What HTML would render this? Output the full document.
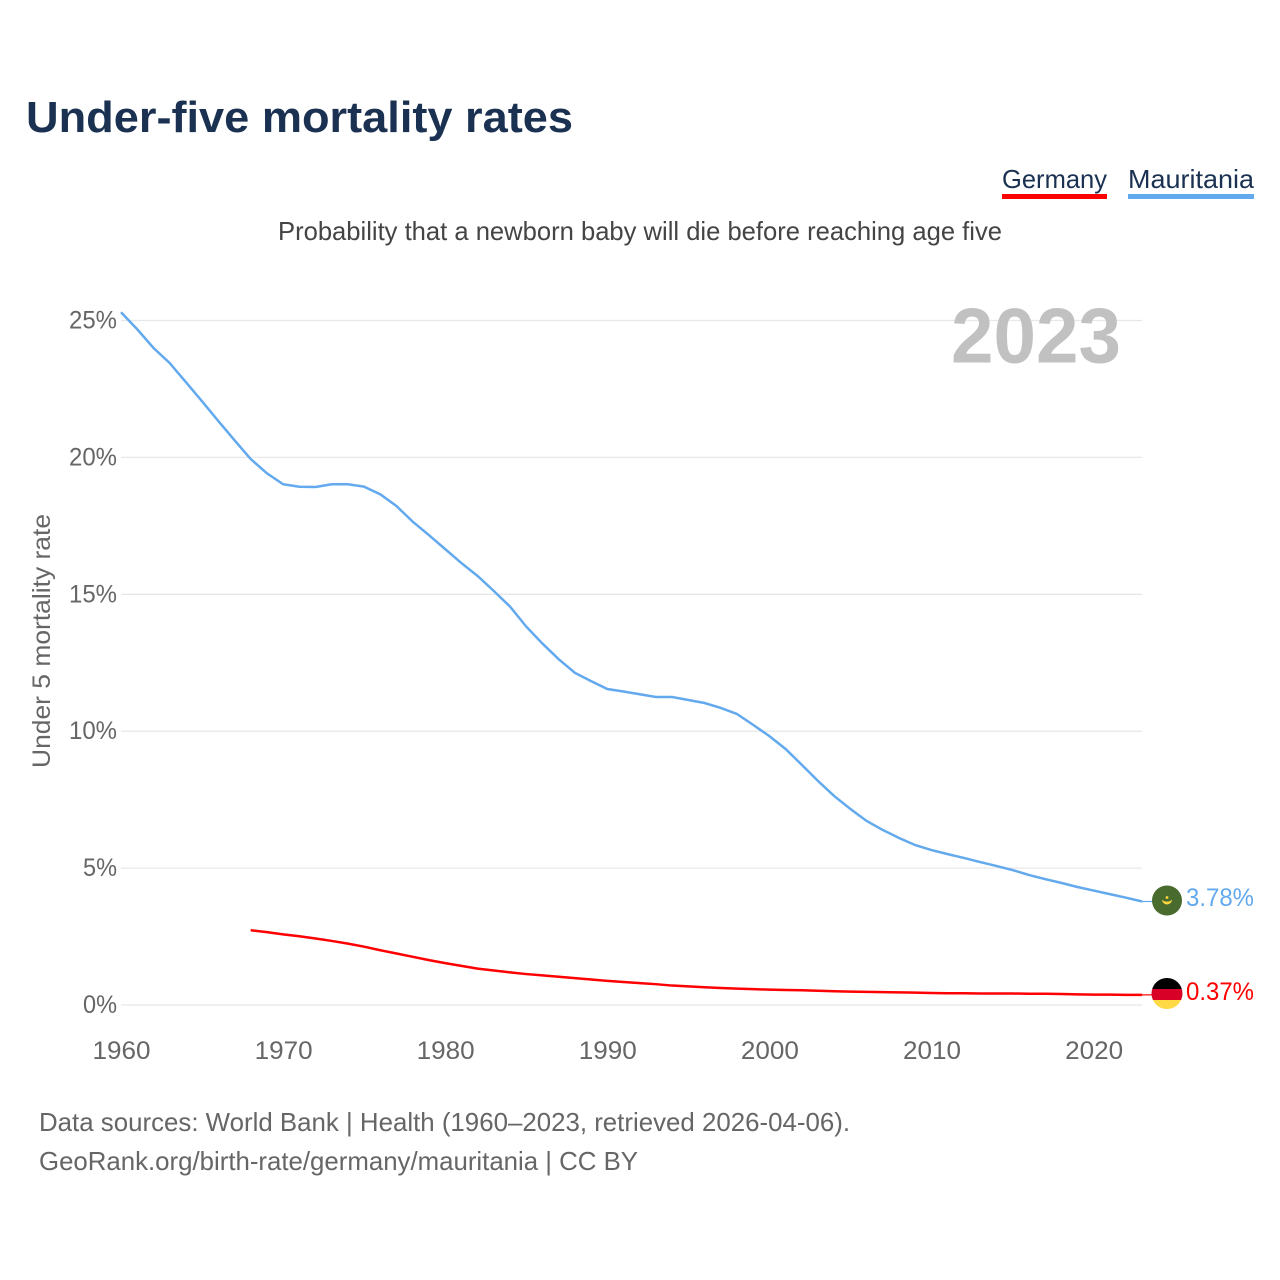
<!DOCTYPE html>
<html lang="en">
<head>
<meta charset="utf-8">
<title>Under-five mortality rates</title>
<style>
html,body{margin:0;padding:0;background:#fff;width:1280px;height:1280px;overflow:hidden}
svg{display:block}
text{font-family:"Liberation Sans",sans-serif}
</style>
</head>
<body>
<svg id="chart" xmlns="http://www.w3.org/2000/svg" width="1280" height="1280" viewBox="0 0 1280 1280">
  <defs>
    <clipPath id="clip-mr"><circle cx="1167" cy="900.5" r="15"/></clipPath>
    <clipPath id="clip-de"><circle cx="1167" cy="993.5" r="15.5"/></clipPath>
  </defs>
  <text x="26" y="132" font-size="44" font-weight="700" fill="#1a3152" textLength="547" lengthAdjust="spacingAndGlyphs">Under-five mortality rates</text>

  <g>
    <text x="1002" y="188" font-size="26" fill="#1a3152" textLength="105" lengthAdjust="spacingAndGlyphs">Germany</text>
    <rect x="1002" y="194" width="105" height="5" fill="#ff0000"/>
  </g>
  <g>
    <text x="1128" y="188" font-size="26" fill="#1a3152" textLength="126" lengthAdjust="spacingAndGlyphs">Mauritania</text>
    <rect x="1128" y="194" width="126" height="5" fill="#63a9ee"/>
  </g>

  <text x="278" y="240" font-size="26" fill="#444444" textLength="724" lengthAdjust="spacingAndGlyphs">Probability that a newborn baby will die before reaching age five</text>

  <g id="grid"></g>
  <text x="1036" y="362.5" font-size="78" font-weight="700" fill="#bfbfbf" fill-opacity="0.97" text-anchor="middle" textLength="170" lengthAdjust="spacingAndGlyphs">2023</text>
  <g id="yticks"></g>
  <g id="xticks"></g>

  <text transform="translate(50,641) rotate(-90)" font-size="25" fill="#666666" text-anchor="middle" textLength="254" lengthAdjust="spacingAndGlyphs">Under 5 mortality rate</text>

  <g id="series"></g>

  <g>
    <circle cx="1167" cy="900.5" r="15" fill="#4a6b2e"/>
    <path d="M1162 899.5a5 5 0 0 0 10 0a5.5 3.6 0 0 1-10 0z" fill="#ffd83d"/>
    <circle cx="1167" cy="897.5" r="1.4" fill="#ffd83d"/>
  </g>
  <g clip-path="url(#clip-de)">
    <rect x="1150" y="977" width="34" height="12" fill="#000000"/>
    <rect x="1150" y="989" width="34" height="11" fill="#d80027"/>
    <rect x="1150" y="1000" width="34" height="11" fill="#ffda44"/>
  </g>

  <text id="label-mr" x="1254" y="906" font-size="25" fill="#63a9ee" text-anchor="end" textLength="68" lengthAdjust="spacingAndGlyphs"></text>
  <text id="label-de" x="1254" y="1000" font-size="25" fill="#ff0000" text-anchor="end" textLength="68" lengthAdjust="spacingAndGlyphs"></text>

  <text x="39" y="1131" font-size="26" fill="#666666" textLength="811" lengthAdjust="spacingAndGlyphs">Data sources: World Bank | Health (1960–2023, retrieved 2026-04-06).</text>
  <text x="39" y="1170" font-size="26" fill="#666666" textLength="599" lengthAdjust="spacingAndGlyphs">GeoRank.org/birth-rate/germany/mauritania | CC BY</text>
</svg>
<script>
const yearsStart = 1960;
const xTickYears = [1960, 1970, 1980, 1990, 2000, 2010, 2020];
const yTickValues = [0, 5, 10, 15, 20, 25];
const mauritaniaYears = [1960,1961,1962,1963,1964,1965,1966,1967,1968,1969,1970,1971,1972,1973,1974,1975,1976,1977,1978,1979,1980,1981,1982,1983,1984,1985,1986,1987,1988,1989,1990,1991,1992,1993,1994,1995,1996,1997,1998,1999,2000,2001,2002,2003,2004,2005,2006,2007,2008,2009,2010,2011,2012,2013,2014,2015,2016,2017,2018,2019,2020,2021,2022,2023];
const mauritaniaValues = [25.3,24.68,24.0,23.45,22.75,22.05,21.33,20.63,19.94,19.42,19.02,18.93,18.92,19.02,19.02,18.93,18.65,18.22,17.65,17.16,16.65,16.14,15.67,15.12,14.55,13.82,13.2,12.63,12.13,11.83,11.54,11.45,11.35,11.25,11.25,11.14,11.03,10.85,10.63,10.23,9.82,9.35,8.77,8.18,7.63,7.16,6.72,6.39,6.1,5.84,5.66,5.51,5.37,5.22,5.08,4.93,4.75,4.6,4.46,4.31,4.18,4.05,3.92,3.78];
const germanyYears = [1968,1969,1970,1971,1972,1973,1974,1975,1976,1977,1978,1979,1980,1981,1982,1983,1984,1985,1986,1987,1988,1989,1990,1991,1992,1993,1994,1995,1996,1997,1998,1999,2000,2001,2002,2003,2004,2005,2006,2007,2008,2009,2010,2011,2012,2013,2014,2015,2016,2017,2018,2019,2020,2021,2022,2023];
const germanyValues = [2.73,2.66,2.58,2.51,2.43,2.34,2.24,2.13,2.0,1.88,1.76,1.64,1.53,1.43,1.33,1.26,1.19,1.13,1.08,1.03,0.98,0.93,0.88,0.84,0.8,0.76,0.71,0.68,0.65,0.62,0.6,0.58,0.56,0.55,0.54,0.52,0.5,0.49,0.48,0.47,0.46,0.45,0.44,0.43,0.43,0.42,0.42,0.42,0.41,0.41,0.4,0.39,0.38,0.38,0.37,0.37];

const SVG_NS = 'http://www.w3.org/2000/svg';
const xOf = function (year) { return 121 + (year - yearsStart) * 16.21; };
const yOf = function (value) { return 1005 - value * 27.38; };
const plotRight = xOf(2023);

const grid = document.getElementById('grid');
const yticks = document.getElementById('yticks');
const xticks = document.getElementById('xticks');
const series = document.getElementById('series');

yTickValues.forEach(function (v) {
  const line = document.createElementNS(SVG_NS, 'line');
  
  
  line.setAttribute('x1', xOf(yearsStart));
  line.setAttribute('x2', plotRight);
  line.setAttribute('y1', yOf(v));
  line.setAttribute('y2', yOf(v));
  line.setAttribute('stroke', '#e8e8e8');
  line.setAttribute('stroke-width', '1.3');
  grid.appendChild(line);

  const label = document.createElementNS(SVG_NS, 'text');
  
  
  label.setAttribute('x', 117);
  label.setAttribute('y', yOf(v) + 8);
  label.setAttribute('font-size', '25');
  label.setAttribute('fill', '#666666');
  label.setAttribute('text-anchor', 'end');
  label.setAttribute('textLength', String(14 * String(v).length + 20));
  label.setAttribute('lengthAdjust', 'spacingAndGlyphs');
  label.textContent = v + '%';
  yticks.appendChild(label);
});

xTickYears.forEach(function (yr) {
  const label = document.createElementNS(SVG_NS, 'text');
  
  
  label.setAttribute('x', xOf(yr) + 0.5);
  label.setAttribute('y', 1059);
  label.setAttribute('font-size', '25');
  label.setAttribute('fill', '#666666');
  label.setAttribute('text-anchor', 'middle');
  label.setAttribute('textLength', '58');
  label.setAttribute('lengthAdjust', 'spacingAndGlyphs');
  label.textContent = yr;
  xticks.appendChild(label);
});

function pointsOf(years, values) {
  return years.map(function (yr, i) {
    return xOf(yr).toFixed(2) + ',' + yOf(values[i]).toFixed(2);
  }).join(' ');
}

const lineDe = document.createElementNS(SVG_NS, 'polyline');


lineDe.setAttribute('points', pointsOf(germanyYears, germanyValues));
lineDe.setAttribute('fill', 'none');
lineDe.setAttribute('stroke', '#ff0000');
lineDe.setAttribute('stroke-width', '2.5');
series.appendChild(lineDe);

const lineMr = document.createElementNS(SVG_NS, 'polyline');


lineMr.setAttribute('points', pointsOf(mauritaniaYears, mauritaniaValues));
lineMr.setAttribute('fill', 'none');
lineMr.setAttribute('stroke', '#63a9ee');
lineMr.setAttribute('stroke-width', '2.5');
series.appendChild(lineMr);

const lastMr = mauritaniaValues[mauritaniaValues.length - 1];
const lastDe = germanyValues[germanyValues.length - 1];

const connMr = document.createElementNS(SVG_NS, 'line');


connMr.setAttribute('x1', plotRight);
connMr.setAttribute('x2', 1153);
connMr.setAttribute('y1', yOf(lastMr));
connMr.setAttribute('y2', yOf(lastMr));
connMr.setAttribute('stroke', '#63a9ee');
connMr.setAttribute('stroke-width', '1.2');
series.appendChild(connMr);

const connDe = document.createElementNS(SVG_NS, 'line');


connDe.setAttribute('x1', plotRight);
connDe.setAttribute('x2', 1153);
connDe.setAttribute('y1', yOf(lastDe));
connDe.setAttribute('y2', yOf(lastDe));
connDe.setAttribute('stroke', '#ff0000');
connDe.setAttribute('stroke-width', '1.2');
series.appendChild(connDe);

document.getElementById('label-mr').textContent = lastMr.toFixed(2) + '%';
document.getElementById('label-de').textContent = lastDe.toFixed(2) + '%';
</script>
</body>
</html>
